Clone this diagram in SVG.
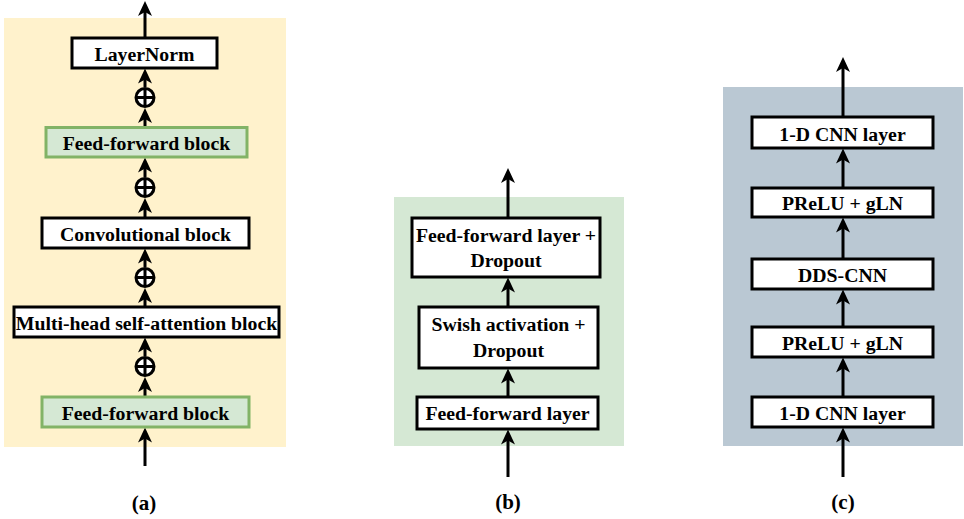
<svg xmlns="http://www.w3.org/2000/svg" width="964" height="519" viewBox="0 0 964 519">
  <defs>
    <marker id="ah" viewBox="0 -7 16 14" refX="5" refY="0" markerWidth="16" markerHeight="14" markerUnits="userSpaceOnUse" orient="auto" overflow="visible">
      <path d="M0,-7 L15,0 L0,7 L4,0 Z" fill="#000"/>
    </marker>
    <style>
      .box { fill: #fff; stroke: #000; stroke-width: 3; }
      .gbox { fill: #d5e8d4; stroke: #82b366; stroke-width: 3; }
      .lbl { font-family: "Liberation Serif", "Times New Roman", serif; font-weight: bold; font-size: 19.8px; fill: #000; text-anchor: middle; }
      .cap { font-family: "Liberation Serif", "Times New Roman", serif; font-weight: bold; font-size: 21px; fill: #000; text-anchor: middle; }
      .wire { stroke: #000; stroke-width: 3; fill: none; marker-end: url(#ah); }
      .sum circle { fill: #fff; stroke: #000; stroke-width: 3; }
      .sum line { stroke: #000; stroke-width: 3; }
    </style>
  </defs>

  <!-- panel backgrounds -->
  <rect id="bg-a" x="4" y="18" width="282" height="429" fill="#fff2cc"/>
  <rect id="bg-b" x="394" y="197" width="230" height="249" fill="#d5e8d4"/>
  <rect id="bg-c" x="723" y="87" width="240" height="359" fill="#bac8d3"/>

  <!-- connectors -->
  <g id="connectors">
    <!-- (a) conformer block -->
    <line class="wire" x1="145" y1="37" x2="145" y2="11"/>
    <line class="wire" x1="145" y1="87" x2="145" y2="78.5"/>
    <line class="wire" x1="145" y1="127" x2="145" y2="118"/>
    <line class="wire" x1="145" y1="177" x2="145" y2="167.5"/>
    <line class="wire" x1="145" y1="218" x2="145" y2="208"/>
    <line class="wire" x1="145" y1="267" x2="145" y2="258.5"/>
    <line class="wire" x1="145" y1="307" x2="145" y2="298"/>
    <line class="wire" x1="145" y1="356" x2="145" y2="347.5"/>
    <line class="wire" x1="145" y1="397" x2="145" y2="387"/>
    <line class="wire" x1="145" y1="466" x2="145" y2="437.5"/>
    <!-- (b) feed-forward block -->
    <line class="wire" x1="508" y1="218" x2="508" y2="178"/>
    <line class="wire" x1="508" y1="307" x2="508" y2="287.5"/>
    <line class="wire" x1="508" y1="397" x2="508" y2="378.5"/>
    <line class="wire" x1="508" y1="477" x2="508" y2="439.5"/>
    <!-- (c) convolutional block -->
    <line class="wire" x1="843" y1="117" x2="843" y2="67"/>
    <line class="wire" x1="843" y1="188" x2="843" y2="158.5"/>
    <line class="wire" x1="843" y1="259" x2="843" y2="227.5"/>
    <line class="wire" x1="843" y1="327" x2="843" y2="299.5"/>
    <line class="wire" x1="843" y1="397" x2="843" y2="367.5"/>
    <line class="wire" x1="843" y1="477" x2="843" y2="437.5"/>
  </g>

  <!-- (a) nodes -->
  <g id="a-layernorm">
    <rect class="box" x="72" y="38" width="145" height="30"/>
    <text class="lbl" x="144.5" y="61">LayerNorm</text>
  </g>
  <g id="a-sum1" class="sum">
    <circle cx="145" cy="97.5" r="9"/>
    <line x1="136" y1="97.5" x2="154" y2="97.5"/>
    <line x1="145" y1="88.5" x2="145" y2="106.5"/>
  </g>
  <g id="a-ff-top">
    <rect class="gbox" x="46" y="127.5" width="201" height="29.5"/>
    <text class="lbl" x="146.5" y="150">Feed-forward block</text>
  </g>
  <g id="a-sum2" class="sum">
    <circle cx="145" cy="187.5" r="9"/>
    <line x1="136" y1="187.5" x2="154" y2="187.5"/>
    <line x1="145" y1="178.5" x2="145" y2="196.5"/>
  </g>
  <g id="a-conv">
    <rect class="box" x="42" y="218" width="207" height="30"/>
    <text class="lbl" x="145.5" y="241">Convolutional block</text>
  </g>
  <g id="a-sum3" class="sum">
    <circle cx="145" cy="277.5" r="9"/>
    <line x1="136" y1="277.5" x2="154" y2="277.5"/>
    <line x1="145" y1="268.5" x2="145" y2="286.5"/>
  </g>
  <g id="a-mhsa">
    <rect class="box" x="14" y="307" width="265" height="30"/>
    <text class="lbl" x="146.5" y="330">Multi-head self-attention block</text>
  </g>
  <g id="a-sum4" class="sum">
    <circle cx="145" cy="366.5" r="9"/>
    <line x1="136" y1="366.5" x2="154" y2="366.5"/>
    <line x1="145" y1="357.5" x2="145" y2="375.5"/>
  </g>
  <g id="a-ff-bottom">
    <rect class="gbox" x="42" y="397" width="207" height="30"/>
    <text class="lbl" x="145.5" y="420">Feed-forward block</text>
  </g>
  <text id="cap-a" class="cap" x="144" y="510">(a)</text>

  <!-- (b) nodes -->
  <g id="b-ff-dropout">
    <rect class="box" x="412" y="218" width="188" height="59"/>
    <text class="lbl" x="506" y="242">Feed-forward layer +</text>
    <text class="lbl" x="506" y="267">Dropout</text>
  </g>
  <g id="b-swish">
    <rect class="box" x="419" y="307" width="179" height="61"/>
    <text class="lbl" x="508.5" y="331">Swish activation +</text>
    <text class="lbl" x="508.5" y="357">Dropout</text>
  </g>
  <g id="b-ff-layer">
    <rect class="box" x="417" y="397" width="181" height="32"/>
    <text class="lbl" x="507.5" y="420">Feed-forward layer</text>
  </g>
  <text id="cap-b" class="cap" x="508" y="509">(b)</text>

  <!-- (c) nodes -->
  <g id="c-cnn-top">
    <rect class="box" x="752" y="117" width="181" height="31"/>
    <text class="lbl" x="842.5" y="141">1-D CNN layer</text>
  </g>
  <g id="c-prelu-top">
    <rect class="box" x="752" y="188" width="181" height="29"/>
    <text class="lbl" x="842.5" y="210">PReLU + gLN</text>
  </g>
  <g id="c-dds">
    <rect class="box" x="752" y="259" width="181" height="30"/>
    <text class="lbl" x="842.5" y="281.5">DDS-CNN</text>
  </g>
  <g id="c-prelu-bottom">
    <rect class="box" x="752" y="327" width="181" height="30"/>
    <text class="lbl" x="842.5" y="349.5">PReLU + gLN</text>
  </g>
  <g id="c-cnn-bottom">
    <rect class="box" x="752" y="397" width="181" height="30"/>
    <text class="lbl" x="842.5" y="420">1-D CNN layer</text>
  </g>
  <text id="cap-c" class="cap" x="843" y="509">(c)</text>
</svg>
